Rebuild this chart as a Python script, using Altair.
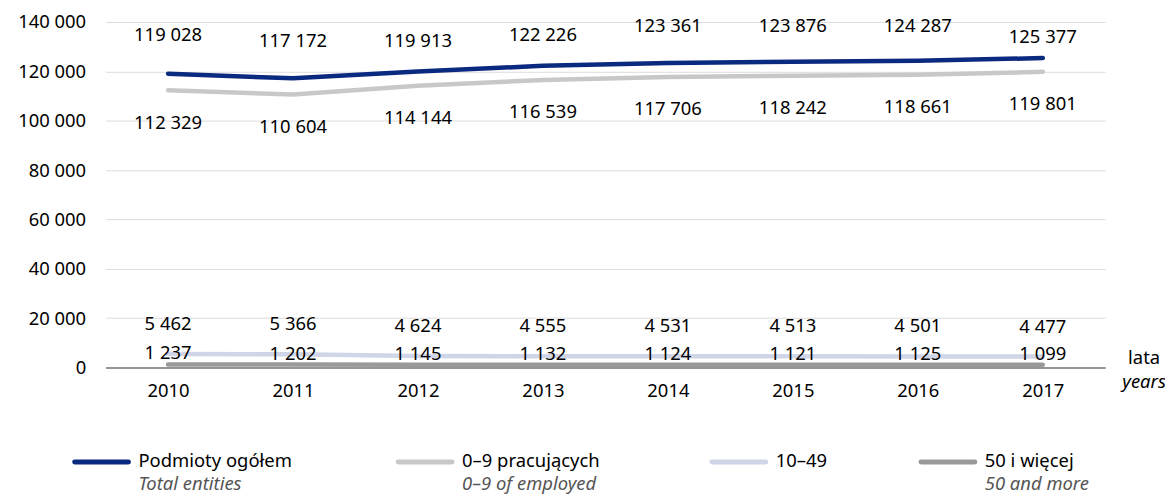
import altair as alt
import pandas as pd

years = ["2010", "2011", "2012", "2013", "2014", "2015", "2016", "2017"]
total = [119028, 117172, 119913, 122226, 123361, 123876, 124287, 125377]
small = [112329, 110604, 114144, 116539, 117706, 118242, 118661, 119801]
medium = [5462, 5366, 4624, 4555, 4531, 4513, 4501, 4477]
large = [1237, 1202, 1145, 1132, 1124, 1121, 1125, 1099]

series_pl = ["Podmioty ogółem", "0–9 pracujących", "10–49", "50 i więcej"]
series_en = ["Total entities", "0–9 of employed", "", "50 and more"]
colors = ["#0a2a80", "#c8c8c8", "#d0d5e8", "#999999"]

# label vertical offsets (px) for the total series, as placed in the original
total_label_dy = [-39, -37, -31, -31, -37, -36, -35, -21]
series_label_dy = {series_pl[1]: 32.5, series_pl[2]: -30, series_pl[3]: -11}

FONT = "Noto Sans"
FS = 18.5
LFS = 18.5

rows = []
for name, vals in zip(series_pl, [total, small, medium, large]):
    for y, v in zip(years, vals):
        rows.append({"year": y, "series": name, "value": v,
                     "label": f"{v:,}".replace(",", " ")})
df = pd.DataFrame(rows)

W, H = 1004, 347

xenc = alt.X("year:O", scale=alt.Scale(type="point", padding=0.5),
             axis=alt.Axis(title=None, labelAngle=0, ticks=False, labelPadding=14,
                           labelFontSize=FS, labelFont=FONT, labelColor="#000",
                           domainColor="#777", domainWidth=1.5, grid=False))
yenc = alt.Y("value:Q", scale=alt.Scale(domain=[0, 140000]),
             axis=alt.Axis(title=None, values=list(range(0, 140001, 20000)),
                           ticks=False, domain=False, labelPadding=20,
                           labelFontSize=FS, labelFont=FONT, labelColor="#000",
                           gridColor="#dcdcdc", gridWidth=1,
                           labelExpr="replace(format(datum.value, ','), ',', ' ')"))
color = alt.Color("series:N", scale=alt.Scale(domain=series_pl, range=colors), legend=None)

base = alt.Chart(df)
lines = base.mark_line(strokeWidth=4.5, strokeCap="round").encode(
    x=xenc, y=yenc, color=color,
    detail="series:N",
)

texts = []
for yr, d in zip(years, total_label_dy):
    texts.append(
        base.transform_filter((alt.datum.series == series_pl[0]) & (alt.datum.year == yr))
        .mark_text(dy=d, fontSize=FS, font=FONT, color="#000")
        .encode(x=alt.X("year:O"), y=alt.Y("value:Q"), text="label:N")
    )
for s, d in series_label_dy.items():
    texts.append(
        base.transform_filter(alt.datum.series == s)
        .mark_text(dy=d, fontSize=FS, font=FONT, color="#000")
        .encode(x=alt.X("year:O"), y=alt.Y("value:Q"), text="label:N")
    )

one = pd.DataFrame({"a": [0]})
extras = []
# axis title at right
extras.append(alt.Chart(one).mark_text(fontSize=FS, font=FONT, color="#000", align="center")
              .encode(x=alt.value(W + 39), y=alt.value(H - 10), text=alt.value("lata")))
extras.append(alt.Chart(one).mark_text(fontSize=FS, font=FONT, color="#000", align="center",
                                       fontStyle="italic")
              .encode(x=alt.value(W + 39), y=alt.value(H + 15), text=alt.value("years")))

# custom legend
leg_x = [-31, 294, 609, 819]
for i, (pl, en, c) in enumerate(zip(series_pl, series_en, colors)):
    x0 = leg_x[i]
    extras.append(alt.Chart(one).mark_rule(strokeWidth=5, strokeCap="round", color=c)
                  .encode(x=alt.value(x0), x2=alt.value(x0 + 54), y=alt.value(442)))
    extras.append(alt.Chart(one).mark_text(fontSize=LFS, font=FONT, color="#000", align="left")
                  .encode(x=alt.value(x0 + 64), y=alt.value(441), text=alt.value(pl)))
    if en:
        extras.append(alt.Chart(one).mark_text(fontSize=LFS, font=FONT, color="#555",
                                               align="left", fontStyle="italic")
                      .encode(x=alt.value(x0 + 64), y=alt.value(464), text=alt.value(en)))

chart = alt.layer(lines, *texts, *extras).properties(
    width=W, height=H,
    autosize=alt.AutoSizeParams(type="none"),
    padding={"left": 98, "top": 13, "right": 60, "bottom": 128},
).configure_view(stroke=None)

chart.save("out.html", embed_options={"renderer": "svg", "actions": False})
